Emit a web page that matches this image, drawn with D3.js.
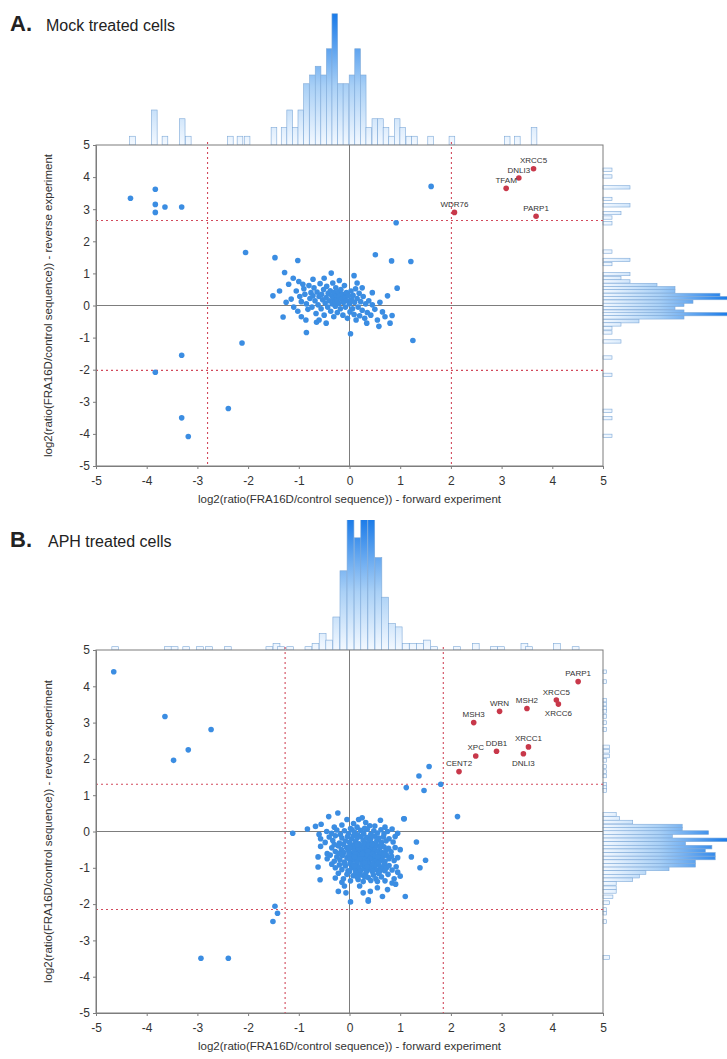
<!DOCTYPE html>
<html>
<head>
<meta charset="utf-8">
<script src="https://cdn.jsdelivr.net/npm/d3@7"></script>
<style>
  body { margin: 0; background: #fff; }
  text { font-family: Arial, "Liberation Sans", sans-serif; }
</style>
</head>
<body>
<svg id="chart" width="727" height="1059"></svg>
<script>
// ---------- Panel A: mock treated cells ----------
var blueA = [
  [-4.32,3.34],[-3.83,3.62],[-3.83,3.15],[-3.83,2.9],[-3.64,3.07],[-3.31,3.07],
  [-3.31,-1.55],[-3.83,-2.08],[-2.39,-3.21],[-3.31,-3.5],[-3.18,-4.08],[-2.12,-1.17],
  [-2.05,1.65],[-1.47,1.49],[-1.02,1.40],[-1.28,1.03],[-0.36,1.01],[0.09,0.93],
  [-1.51,0.30],[-1.11,0.85],[-1.20,0.66],[-0.92,0.66],
  [-1.31,-0.36],[-0.85,-0.84],[-0.65,-0.52],[0.02,-0.88],
  [1.25,-1.09],[0.84,-0.31],[0.58,-0.65],[0.34,-0.55],
  [1.61,3.71],[0.92,2.58],[0.51,1.58],[0.83,1.39],[1.21,1.37],[0.94,0.54],
  [-1.05,0.45],[-0.98,0.28],[-0.95,0.12],[-0.9,0.52],[-0.88,0.35],[-0.85,0.05],[-0.82,-0.12],[-0.8,0.62],[-0.78,0.22],[-0.76,0.4],
  [-0.74,-0.05],[-0.72,0.3],[-0.7,0.55],[-0.68,0.15],[-0.66,-0.25],[-0.64,0.42],[-0.62,0.02],[-0.6,0.28],[-0.58,0.68],[-0.56,-0.1],
  [-0.55,0.35],[-0.53,0.18],[-0.51,0.5],[-0.5,-0.3],[-0.48,0.08],[-0.46,0.25],[-0.45,0.6],[-0.43,-0.05],[-0.42,0.38],[-0.4,0.15],
  [-0.38,0.46],[-0.37,-0.18],[-0.35,0.3],[-0.34,0.05],[-0.33,0.7],[-0.32,0.22],[-0.31,-0.35],[-0.3,0.4],[-0.29,0.12],[-0.28,-0.02],
  [-0.27,0.55],[-0.26,0.3],[-0.25,0.18],[-0.24,-0.22],[-0.22,0.42],[-0.21,0.06],[-0.2,0.28],[-0.18,-0.1],[-0.17,0.5],[-0.16,0.2],
  [-0.14,0.35],[-0.13,-0.3],[-0.12,0.1],[-0.1,0.62],[-0.09,0.25],[-0.08,-0.05],[-0.06,0.4],[-0.05,0.15],[-0.04,-0.4],[-0.02,0.3],
  [0.0,0.05],[0.01,-0.2],[0.03,0.45],[0.04,0.18],[0.06,-0.1],[0.07,0.32],[0.09,-0.28],[0.1,0.1],[0.12,0.52],[0.13,-0.45],
  [0.15,0.22],[0.17,-0.05],[0.19,0.38],[0.2,-0.32],[0.22,0.12],[0.25,-0.15],[0.27,0.28],[0.3,-0.4],[0.32,0.05],[0.35,-0.22],
  [0.38,0.15],[0.42,-0.3],[0.45,0.02],[0.5,-0.12],[0.55,-0.45],[0.6,0.1],[0.65,-0.2],[0.7,-0.35],[0.75,0.3],[0.8,-0.55],
  [-1.15,0.2],[-1.1,-0.05],[-1.0,0.75],[-0.95,-0.35],[-0.6,-0.45],[-0.5,0.85],[-0.2,0.78],[0.15,0.7],[0.25,0.55],[0.45,0.4],
  [-1.25,0.1],[-1.02,-0.18],[-0.86,-0.45],[-0.72,0.82],[-0.46,-0.55],[-1.38,0.45]
];
var redA_names = ["XRCC5","DNLI3","TFAM","WDR76","PARP1"];
var redA_x = [3.63, 3.34, 3.09, 2.07, 3.68];
var redA_y = [4.26, 3.97, 3.65, 2.90, 2.78];
var cutA_x = [-2.8, 2.01];
var cutA_y = [2.65, -2.02];

// histogram along x (bin centres, counts)
var topA_c = [-4.28,-3.85,-3.64,-3.30,-3.18,-2.35,-2.16,-2.02,-1.49,-1.29,-1.18,-1.07,-0.96,-0.85,-0.73,-0.62,-0.51,-0.40,-0.29,-0.18,-0.07,0.05,0.16,0.27,0.38,0.50,0.61,0.72,0.83,0.94,1.05,1.17,1.28,1.60,2.02,3.11,3.31,3.64];
var topA_n = [1,4,1,3,1,1,1,1,2,2,4,2,4,7,8,9,8,11,15,7,7,8,11,8,2,3,3,2,1,3,2,1,1,1,1,1,1,2];
// histogram along y
var sideA_c = [4.23,4.02,3.68,3.32,3.12,2.88,2.74,2.56,1.68,1.42,1.29,0.98,0.85,0.75,0.64,0.54,0.44,0.33,0.23,0.12,0.02,-0.08,-0.19,-0.27,-0.37,-0.49,-0.59,-0.71,-0.84,-1.12,-1.62,-2.16,-3.28,-3.51,-4.06];
var sideA_n = [1,1,3,1,3,2,1,1,1,3,1,3,2,3,6,8,8,13,16,10,9,8,9,16,9,4,2,1,1,2,1,1,1,1,1];

// ---------- Panel B: APH treated cells ----------
var blueB = [
  [-4.65,4.40],[-3.64,3.17],[-2.73,2.81],[-3.18,2.25],[-3.47,1.96],[-2.93,-3.49],[-2.39,-3.49],
  [-1.51,-2.48],[-1.47,-2.06],[-1.42,-2.25],[1.57,1.79],[1.37,1.53],[1.12,1.21],[1.47,1.13],[1.80,1.30],
  [2.13,0.41],[1.08,0.35],[1.32,-0.29],[1.22,-0.70],[1.50,-0.79],[1.39,-1.0],[1.0,-1.23],
  [-0.41,0.41],[-0.23,0.51],[-0.05,0.33],[0.18,0.33],[0.25,0.38],[0.61,0.31],[1.07,0.35],[0.4,0.16],[0.5,0.15],
  [-0.56,0.2],[-0.67,0.14],[0.08,0.22],[-0.15,0.18],[0.32,0.25],[0.84,0.07],[-0.3,0.12],[0.7,0.12],[0.15,0.12],
  [-0.83,0.07],[-1.12,-0.05],[-0.45,0.0],[-0.35,-0.05],[-0.25,0.04],[-0.18,-0.08],[-0.1,0.02],[-0.02,-0.06],[0.05,0.05],
  [0.1,-0.02],[0.16,-0.09],[0.22,0.03],[0.28,-0.05],[0.35,0.06],[0.42,-0.08],[0.48,0.02],[0.55,-0.04],[0.62,0.05],
  [0.68,-0.07],[0.75,0.0],[0.95,-0.05],[-0.6,-0.08],[0.02,0.08],[0.3,0.09],
  [-0.57,-0.2],[-0.48,-0.3],[-0.4,-0.15],[-0.33,-0.25],[-0.28,-0.12],[-0.2,-0.32],[-0.15,-0.18],[-0.08,-0.26],[-0.04,-0.14],
  [0.0,-0.3],[0.04,-0.2],[0.08,-0.12],[0.12,-0.28],[0.15,-0.18],[0.19,-0.34],[0.23,-0.14],[0.27,-0.24],[0.31,-0.32],
  [0.34,-0.16],[0.38,-0.27],[0.42,-0.2],[0.46,-0.33],[0.5,-0.13],[0.54,-0.25],[0.58,-0.18],[0.63,-0.3],[0.67,-0.15],
  [0.72,-0.26],[0.78,-0.2],[0.86,-0.29],[0.9,-0.14],[-0.12,-0.35],[0.1,-0.35],[0.44,-0.12],
  [-0.57,-0.41],[-0.44,-0.61],[-0.35,-0.45],[-0.28,-0.55],[-0.22,-0.4],[-0.16,-0.5],[-0.11,-0.58],[-0.06,-0.44],[-0.02,-0.52],
  [0.02,-0.38],[0.05,-0.6],[0.08,-0.47],[0.11,-0.4],[0.14,-0.55],[0.17,-0.45],[0.2,-0.58],[0.23,-0.38],[0.26,-0.5],
  [0.29,-0.43],[0.32,-0.57],[0.35,-0.46],[0.38,-0.39],[0.41,-0.53],[0.44,-0.44],[0.47,-0.59],[0.5,-0.48],[0.53,-0.38],
  [0.56,-0.55],[0.6,-0.45],[0.64,-0.58],[0.68,-0.42],[0.72,-0.52],[0.77,-0.46],[0.82,-0.56],[0.9,-0.44],[1.0,-0.5],
  [0.0,-0.45],[0.27,-0.6],[0.15,-0.36],[0.45,-0.36],[-0.3,-0.36],[0.62,-0.36],[0.36,-0.55],[0.09,-0.55],[-0.2,-0.6],
  [-0.62,-0.7],[-0.44,-0.75],[-0.38,-0.65],[-0.3,-0.82],[-0.25,-0.7],[-0.19,-0.78],[-0.14,-0.66],[-0.1,-0.84],[-0.05,-0.72],
  [-0.01,-0.64],[0.03,-0.8],[0.06,-0.69],[0.09,-0.77],[0.12,-0.63],[0.15,-0.83],[0.18,-0.71],[0.21,-0.65],[0.24,-0.79],
  [0.27,-0.68],[0.3,-0.85],[0.33,-0.73],[0.36,-0.64],[0.39,-0.8],[0.42,-0.7],[0.45,-0.62],[0.48,-0.77],[0.51,-0.67],
  [0.54,-0.84],[0.57,-0.72],[0.6,-0.63],[0.63,-0.79],[0.66,-0.69],[0.7,-0.82],[0.74,-0.66],[0.78,-0.75],[0.83,-0.68],
  [0.88,-0.8],[0.95,-0.72],[0.2,-0.75],[0.4,-0.75],[0.0,-0.76],[0.55,-0.7],[0.1,-0.7],[0.35,-0.81],[0.68,-0.62],
  [-0.2,-0.62],[0.25,-0.62],[0.5,-0.83],
  [-0.62,-0.98],[-0.35,-0.9],[-0.28,-1.0],[-0.2,-0.92],[-0.15,-1.05],[-0.08,-0.95],[-0.03,-1.08],[0.01,-0.88],[0.05,-1.0],
  [0.08,-0.92],[0.12,-1.06],[0.15,-0.87],[0.18,-0.98],[0.22,-1.08],[0.25,-0.9],[0.28,-1.02],[0.31,-0.94],[0.34,-1.09],
  [0.37,-0.88],[0.4,-0.99],[0.43,-1.05],[0.46,-0.9],[0.49,-1.0],[0.52,-0.93],[0.55,-1.07],[0.58,-0.87],[0.61,-0.97],
  [0.65,-1.04],[0.69,-0.91],[0.73,-1.0],[0.78,-0.94],[0.84,-1.06],[0.92,-0.97],[0.1,-0.96],[0.3,-0.86],[0.45,-1.1],
  [0.2,-1.1],[-0.1,-0.88],[0.6,-1.1],[0.35,-0.97],[0.0,-1.1],[0.7,-1.08],
  [-0.58,-1.33],[-0.28,-1.28],[-0.22,-1.15],[-0.12,-1.3],[-0.05,-1.18],[0.02,-1.36],[0.07,-1.22],[0.12,-1.14],[0.17,-1.32],
  [0.22,-1.2],[0.27,-1.38],[0.32,-1.16],[0.37,-1.27],[0.42,-1.35],[0.47,-1.2],[0.52,-1.3],[0.57,-1.15],[0.63,-1.25],
  [0.7,-1.36],[0.76,-1.18],[0.88,-1.3],[0.3,-1.25],[0.15,-1.25],[0.55,-1.38],[-0.15,-1.4],[0.95,-1.12],
  [-0.22,-1.65],[-0.07,-1.69],[0.02,-1.94],[0.27,-1.69],[0.41,-1.65],[0.37,-1.88],[0.37,-1.92],[0.65,-1.79],[1.1,-1.79],
  [0.84,-1.42],[0.91,-1.45],[0.2,-1.5],[0.55,-1.55],[-0.1,-1.5],[0.75,-1.6]
];
var redB_names = ["PARP1","XRCC5","XRCC6","MSH2","WRN","MSH3","XRCC1","DDB1","XPC","DNLI3","CENT2"];
var redB_x = [4.51, 4.08, 4.12, 3.50, 2.96, 2.45, 3.53, 2.90, 2.49, 3.43, 2.16];
var redB_y = [4.13, 3.62, 3.51, 3.39, 3.31, 3.00, 2.33, 2.21, 2.08, 2.14, 1.65];
var cutB_x = [-1.27, 1.85];
var cutB_y = [1.3, -2.15];

var topB_c = [-4.62,-3.58,-3.45,-3.22,-2.95,-2.77,-2.40,-1.58,-1.44,-1.35,-1.17,-0.81,-0.67,-0.53,-0.40,-0.26,-0.12,0.02,0.16,0.29,0.43,0.57,0.70,0.84,0.97,1.11,1.25,1.39,1.53,1.67,2.12,2.49,2.85,2.99,3.45,3.54,4.09,4.46];
var topB_n = [1,1,1,1,1,1,1,1,2,1,1,1,2,5,3,10,24,45,34,45,42,28,16,8,7,2,2,2,3,1,1,2,1,1,2,1,2,1];
var sideB_c = [4.40,4.13,3.62,3.51,3.39,3.31,3.17,3.00,2.81,2.33,2.21,2.08,1.96,1.79,1.65,1.53,1.30,1.21,1.13,0.47,0.36,0.26,0.15,0.06,-0.03,-0.13,-0.23,-0.33,-0.43,-0.53,-0.63,-0.73,-0.83,-0.93,-1.03,-1.13,-1.23,-1.33,-1.43,-1.55,-1.65,-1.80,-1.96,-2.15,-2.25,-2.48,-3.47];
var sideB_n = [1,1,1,1,1,1,1,1,1,2,2,2,1,1,1,1,1,1,1,4,5,9,24,24,32,21,38,25,33,31,34,34,28,28,20,13,11,9,4,4,4,3,2,1,1,1,2];

// ---------- drawing ----------
var svg = d3.select("#chart");
var defs = svg.append("defs");
var blue = "#3b8de2", red = "#c8384a", axisGrey = "#7d7d7d", cutColor = "#d24a5c";

function makeGradient(id, x1, y1, x2, y2) {
  var g = defs.append("linearGradient").attr("id", id)
    .attr("gradientUnits", "userSpaceOnUse")
    .attr("x1", x1).attr("y1", y1).attr("x2", x2).attr("y2", y2);
  g.append("stop").attr("offset", "0%").attr("stop-color", "#f4f9ff");
  g.append("stop").attr("offset", "45%").attr("stop-color", "#a9d0f6");
  g.append("stop").attr("offset", "100%").attr("stop-color", "#1c7ce9");
}

function drawPanel(p) {
  var x = d3.scaleLinear().domain([-5, 5]).range([p.left, p.right]);
  var y = d3.scaleLinear().domain([-5, 5]).range([p.bottom, p.top]);
  var g = svg.append("g");

  // title
  g.append("text").attr("x", 10).attr("y", p.titleY)
    .attr("font-size", 22).attr("font-weight", "bold").attr("fill", "#222").text(p.letter);
  g.append("text").attr("x", p.titleX).attr("y", p.titleY)
    .attr("font-size", 16).attr("fill", "#222").text(p.title);

  // top histogram
  var gradTop = "gt" + p.letter[0], gradSide = "gs" + p.letter[0];
  makeGradient(gradTop, 0, p.top, 0, p.top - 130);
  makeGradient(gradSide, p.right, 0, 727, 0);
  var clipId = "clip" + p.letter[0];
  defs.append("clipPath").attr("id", clipId).append("rect")
    .attr("x", 0).attr("y", p.histClipTop).attr("width", 727).attr("height", p.top - p.histClipTop);

  var hTop = d3.scaleLinear().domain([0, 1]).range([0, p.topUnit]);
  var bw = p.topBin;
  g.append("g").attr("clip-path", "url(#" + clipId + ")")
    .selectAll("rect").data(d3.zip(p.topC, p.topN)).enter().append("rect")
    .attr("x", function (d) { return x(d[0] - bw / 2); })
    .attr("width", function (d) { return x(bw) - x(0); })
    .attr("y", function (d) { return p.top - hTop(d[1]); })
    .attr("height", function (d) { return hTop(d[1]); })
    .attr("fill", "url(#" + gradTop + ")")
    .attr("stroke", "#7ea9d8").attr("stroke-width", 0.6);

  // side histogram
  var hSide = d3.scaleLinear().domain([0, 1]).range([0, p.sideUnit]);
  var bh = p.sideBin;
  g.append("g").selectAll("rect").data(d3.zip(p.sideC, p.sideN)).enter().append("rect")
    .attr("x", p.right)
    .attr("y", function (d) { return y(d[0] + bh / 2); })
    .attr("height", function (d) { return y(0) - y(bh); })
    .attr("width", function (d) { return hSide(d[1]); })
    .attr("fill", "url(#" + gradSide + ")")
    .attr("stroke", "#7ea9d8").attr("stroke-width", 0.6);

  // frame and zero lines
  g.append("rect").attr("x", p.left).attr("y", p.top)
    .attr("width", p.right - p.left).attr("height", p.bottom - p.top)
    .attr("fill", "none").attr("stroke", axisGrey).attr("stroke-width", 1);
  g.append("line").attr("x1", x(0)).attr("x2", x(0)).attr("y1", p.top).attr("y2", p.bottom)
    .attr("stroke", axisGrey);
  g.append("line").attr("x1", p.left).attr("x2", p.right).attr("y1", y(0)).attr("y2", y(0))
    .attr("stroke", axisGrey);

  // threshold lines
  g.selectAll(".cx").data(p.cutX).enter().append("line")
    .attr("x1", function (d) { return x(d); }).attr("x2", function (d) { return x(d); })
    .attr("y1", p.top - 3).attr("y2", p.bottom)
    .attr("stroke", cutColor).attr("stroke-width", 1.1).attr("stroke-dasharray", "2,3");
  g.selectAll(".cy").data(p.cutY).enter().append("line")
    .attr("y1", function (d) { return y(d); }).attr("y2", function (d) { return y(d); })
    .attr("x1", p.left).attr("x2", p.right + 3)
    .attr("stroke", cutColor).attr("stroke-width", 1.1).attr("stroke-dasharray", "2,3");

  // axes
  var ticks = d3.range(-5, 6);
  var ax = g.append("g").attr("transform", "translate(0," + p.bottom + ")")
    .call(d3.axisBottom(x).tickValues(ticks).tickSize(3).tickFormat(function (d) { return String(d); }));
  var ay = g.append("g").attr("transform", "translate(" + p.left + ",0)")
    .call(d3.axisLeft(y).tickValues(ticks).tickSize(3).tickFormat(function (d) { return String(d); }));
  [ax, ay].forEach(function (a) {
    a.select(".domain").attr("stroke", axisGrey);
    a.selectAll(".tick line").attr("stroke", axisGrey);
    a.selectAll(".tick text").attr("font-size", 12).attr("fill", "#333")
      .attr("font-family", "Arial, 'Liberation Sans', sans-serif");
  });
  ax.selectAll(".tick text").attr("dy", "1.05em");

  // axis titles
  g.append("text").attr("x", x(0)).attr("y", p.bottom + 37).attr("text-anchor", "middle")
    .attr("font-size", 11.5).attr("fill", "#333")
    .text("log2(ratio(FRA16D/control sequence)) - forward experiment");
  g.append("text").attr("transform", "translate(52," + y(0) + ") rotate(-90)")
    .attr("text-anchor", "middle").attr("font-size", 11.5).attr("fill", "#333")
    .text("log2(ratio(FRA16D/control sequence)) - reverse experiment");

  // points
  g.append("g").selectAll("circle").data(p.blue).enter().append("circle")
    .attr("cx", function (d) { return x(d[0]); }).attr("cy", function (d) { return y(d[1]); })
    .attr("r", 2.8).attr("fill", blue);

  var reds = p.redNames.map(function (n, i) { return { name: n, x: p.redX[i], y: p.redY[i] }; });
  g.append("g").selectAll("circle").data(reds).enter().append("circle")
    .attr("cx", function (d) { return x(d.x); }).attr("cy", function (d) { return y(d.y); })
    .attr("r", 2.8).attr("fill", red);
  g.append("g").selectAll("text").data(reds).enter().append("text")
    .attr("x", function (d) { return x(d.x); })
    .attr("y", function (d) { return y(d.y) + (p.below.indexOf(d.name) >= 0 ? 12 : -5.5); })
    .attr("text-anchor", "middle").attr("font-size", 8).attr("fill", "#333")
    .text(function (d) { return d.name; });
}

drawPanel({
  letter: "A.", title: "Mock treated cells", titleX: 46, titleY: 31,
  left: 96, right: 603, top: 145, bottom: 466, histClipTop: 0,
  blue: blueA, redNames: redA_names, redX: redA_x, redY: redA_y, below: [],
  cutX: cutA_x, cutY: cutA_y,
  topC: topA_c, topN: topA_n, topBin: 0.112, topUnit: 8.75,
  sideC: sideA_c, sideN: sideA_n, sideBin: 0.104, sideUnit: 9
});
drawPanel({
  letter: "B.", title: "APH treated cells", titleX: 48, titleY: 547,
  left: 96, right: 603, top: 650, bottom: 1013, histClipTop: 520,
  blue: blueB, redNames: redB_names, redX: redB_x, redY: redB_y, below: ["XRCC6", "DNLI3"],
  cutX: cutB_x, cutY: cutB_y,
  topC: topB_c, topN: topB_n, topBin: 0.135, topUnit: 3.3,
  sideC: sideB_c, sideN: sideB_n, sideBin: 0.1, sideUnit: 3.3
});
</script>
</body>
</html>
